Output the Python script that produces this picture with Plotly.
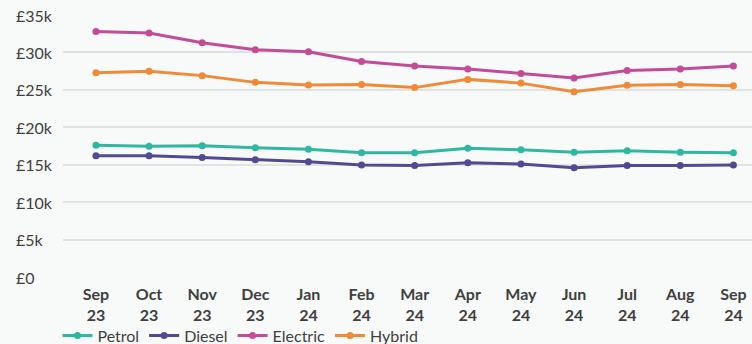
import plotly.graph_objects as go

months = ["Sep<br>23", "Oct<br>23", "Nov<br>23", "Dec<br>23", "Jan<br>24", "Feb<br>24",
          "Mar<br>24", "Apr<br>24", "May<br>24", "Jun<br>24", "Jul<br>24", "Aug<br>24", "Sep<br>24"]
petrol = [17600, 17470, 17550, 17250, 17070, 16600, 16600, 17200, 17000, 16670, 16850, 16670, 16600]
diesel = [16200, 16200, 15950, 15650, 15400, 14970, 14900, 15250, 15100, 14600, 14900, 14900, 14970]
electric = [32800, 32600, 31300, 30360, 30100, 28800, 28200, 27800, 27200, 26600, 27600, 27800, 28200]
hybrid = [27300, 27500, 26900, 26000, 25650, 25700, 25300, 26400, 25900, 24750, 25600, 25700, 25550]

y_ticks = [0, 5000, 10000, 15000, 20000, 25000, 30000, 35000]
y_tick_labels = ["£0", "£5k", "£10k", "£15k", "£20k", "£25k", "£30k", "£35k"]

series = [
    ("Petrol", petrol, "#2fb7a0"),
    ("Diesel", diesel, "#514a93"),
    ("Electric", electric, "#c24c97"),
    ("Hybrid", hybrid, "#ef8a39"),
]

x = list(range(len(months)))
fig = go.Figure()
for name, vals, col in series:
    fig.add_trace(go.Scatter(
        x=x, y=vals, name=name, mode="lines+markers",
        line=dict(color=col, width=3),
        marker=dict(color=col, size=7),
        cliponaxis=False,
    ))

bg = "#f8f9f9"
txt = "#3f3f3f"
plot_w = 752 - 63

# left-aligned y tick labels
for v, lab in zip(y_ticks, y_tick_labels):
    fig.add_annotation(x=(14 - 63) / plot_w, xref="paper", xanchor="left",
                       y=v, yref="y", yanchor="middle", text=lab, showarrow=False,
                       font=dict(size=16, color=txt, family="Lato"))

fig.update_layout(
    width=752, height=344,
    margin=dict(l=63, r=0, t=14.5, b=67, autoexpand=False),
    paper_bgcolor=bg, plot_bgcolor=bg,
    font=dict(family="Lato", size=16, color=txt),
    showlegend=True,
    legend=dict(orientation="h", x=-0.008, xanchor="left", y=-0.224, yanchor="middle",
                font=dict(size=16, color=txt), itemwidth=30, tracegroupgap=0,
                bgcolor="rgba(0,0,0,0)"),
    xaxis=dict(
        range=[-0.62, 12.35], tickmode="array", tickvals=x,
        ticktext=["<b>" + m.replace("<br>", "</b><br><b>") + "</b>" for m in months],
        showgrid=False, zeroline=False, showline=False, ticks="", automargin=False,
        tickfont=dict(size=16, color=txt), ticklabelstandoff=6,
    ),
    yaxis=dict(
        range=[0, 35000], tickmode="array", tickvals=y_ticks, showticklabels=False,
        showgrid=True, gridcolor="#e2e2e2", gridwidth=1.5, zeroline=False, showline=False,
        ticks="", automargin=False,
    ),
)
fig.write_html("out.html")
